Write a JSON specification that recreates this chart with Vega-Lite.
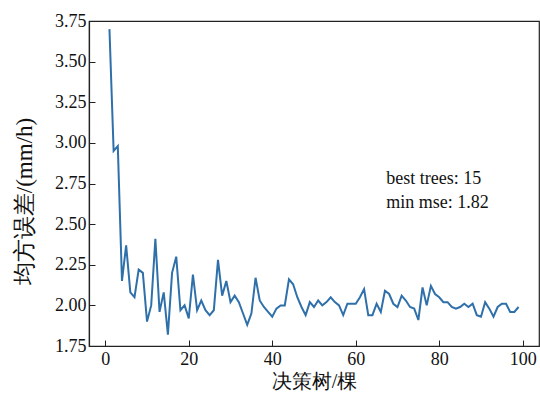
{
  "$schema": "https://vega.github.io/schema/vega-lite/v6.json",
  "width": 450,
  "height": 325,
  "autosize": {"type": "none"},
  "padding": {"left": 89, "top": 21, "right": 1, "bottom": 51},
  "background": "white",
  "config": {
    "font": "Liberation Serif",
    "view": {"stroke": "#222", "strokeWidth": 1.2},
    "axis": {
      "grid": false,
      "domainColor": "#222",
      "tickColor": "#222",
      "labelColor": "#111",
      "titleColor": "#111",
      "labelFont": "Liberation Serif",
      "labelFontSize": 18,
      "titleFontSize": 20,
      "titleFontWeight": "normal",
      "tickSize": -6,
      "domainWidth": 1.2
    }
  },
  "datasets": {
    "mse": [
      {"n": 1, "v": 3.70}, {"n": 2, "v": 2.95}, {"n": 3, "v": 2.98}, {"n": 4, "v": 2.15}, {"n": 5, "v": 2.37},
      {"n": 6, "v": 2.08}, {"n": 7, "v": 2.05}, {"n": 8, "v": 2.22}, {"n": 9, "v": 2.20}, {"n": 10, "v": 1.90},
      {"n": 11, "v": 2.00}, {"n": 12, "v": 2.41}, {"n": 13, "v": 1.96}, {"n": 14, "v": 2.08}, {"n": 15, "v": 1.82},
      {"n": 16, "v": 2.20}, {"n": 17, "v": 2.30}, {"n": 18, "v": 1.97}, {"n": 19, "v": 2.00}, {"n": 20, "v": 1.92},
      {"n": 21, "v": 2.19}, {"n": 22, "v": 1.97}, {"n": 23, "v": 2.03}, {"n": 24, "v": 1.97}, {"n": 25, "v": 1.94},
      {"n": 26, "v": 1.97}, {"n": 27, "v": 2.28}, {"n": 28, "v": 2.06}, {"n": 29, "v": 2.15}, {"n": 30, "v": 2.02},
      {"n": 31, "v": 2.06}, {"n": 32, "v": 2.02}, {"n": 33, "v": 1.95}, {"n": 34, "v": 1.88}, {"n": 35, "v": 1.95},
      {"n": 36, "v": 2.17}, {"n": 37, "v": 2.03}, {"n": 38, "v": 1.99}, {"n": 39, "v": 1.96}, {"n": 40, "v": 1.93},
      {"n": 41, "v": 1.98}, {"n": 42, "v": 2.00}, {"n": 43, "v": 2.00}, {"n": 44, "v": 2.16}, {"n": 45, "v": 2.13},
      {"n": 46, "v": 2.05}, {"n": 47, "v": 1.99}, {"n": 48, "v": 1.94}, {"n": 49, "v": 2.02}, {"n": 50, "v": 1.99},
      {"n": 51, "v": 2.03}, {"n": 52, "v": 2.00}, {"n": 53, "v": 2.02}, {"n": 54, "v": 2.05}, {"n": 55, "v": 2.02},
      {"n": 56, "v": 2.00}, {"n": 57, "v": 1.94}, {"n": 58, "v": 2.01}, {"n": 59, "v": 2.01}, {"n": 60, "v": 2.01},
      {"n": 61, "v": 2.05}, {"n": 62, "v": 2.10}, {"n": 63, "v": 1.94}, {"n": 64, "v": 1.94}, {"n": 65, "v": 2.01},
      {"n": 66, "v": 1.96}, {"n": 67, "v": 2.09}, {"n": 68, "v": 2.07}, {"n": 69, "v": 2.01}, {"n": 70, "v": 1.99},
      {"n": 71, "v": 2.06}, {"n": 72, "v": 2.03}, {"n": 73, "v": 1.99}, {"n": 74, "v": 1.98}, {"n": 75, "v": 1.91},
      {"n": 76, "v": 2.11}, {"n": 77, "v": 2.00}, {"n": 78, "v": 2.12}, {"n": 79, "v": 2.07}, {"n": 80, "v": 2.05},
      {"n": 81, "v": 2.02}, {"n": 82, "v": 2.02}, {"n": 83, "v": 1.99}, {"n": 84, "v": 1.98}, {"n": 85, "v": 1.99},
      {"n": 86, "v": 2.01}, {"n": 87, "v": 1.99}, {"n": 88, "v": 2.01}, {"n": 89, "v": 1.94}, {"n": 90, "v": 1.93},
      {"n": 91, "v": 2.02}, {"n": 92, "v": 1.98}, {"n": 93, "v": 1.93}, {"n": 94, "v": 1.99}, {"n": 95, "v": 2.01},
      {"n": 96, "v": 2.01}, {"n": 97, "v": 1.96}, {"n": 98, "v": 1.96}, {"n": 99, "v": 1.99}
    ],
    "notes": [
      {"n": 67.3, "v": 2.747, "label": "best trees: 15"},
      {"n": 67.3, "v": 2.599, "label": "min mse: 1.82"}
    ]
  },
  "layer": [
    {
      "data": {"name": "mse"},
      "mark": {"type": "line", "color": "#2f70aa", "strokeWidth": 2, "clip": true},
      "encoding": {
        "x": {
          "field": "n", "type": "quantitative",
          "scale": {"domain": [-3.9, 103.9], "nice": false, "zero": false},
          "axis": {"values": [0, 20, 40, 60, 80, 100], "title": "决策树/棵", "labelPadding": 10, "titlePadding": 3, "labelFlush": false,
                   "titleFontSize": 20,
                   "encode": {"labels": {"update": {"font": {"value": "Liberation Serif"}}}, "title": {"update": {"font": {"value": "Liberation Serif"}}}}}
        },
        "y": {
          "field": "v", "type": "quantitative",
          "scale": {"domain": [1.75, 3.75], "nice": false, "zero": false},
          "axis": {"values": [1.75, 2.0, 2.25, 2.5, 2.75, 3.0, 3.25, 3.5, 3.75], "format": ".2f", "title": "均方误差/(mm/h)", "labelPadding": 9, "titlePadding": 18, "labelFlush": false,
                   "titleFontSize": 23, "titleY": 180,
                   "encode": {"labels": {"update": {"font": {"value": "Liberation Serif"}}}, "title": {"update": {"font": {"value": "Liberation Serif"}}}}}
        }
      }
    },
    {
      "data": {"name": "notes"},
      "mark": {"type": "text", "align": "left", "baseline": "alphabetic", "fontSize": 18, "font": "Liberation Serif", "color": "#111"},
      "encoding": {
        "x": {"field": "n", "type": "quantitative"},
        "y": {"field": "v", "type": "quantitative"},
        "text": {"field": "label", "type": "nominal"}
      }
    }
  ]
}
